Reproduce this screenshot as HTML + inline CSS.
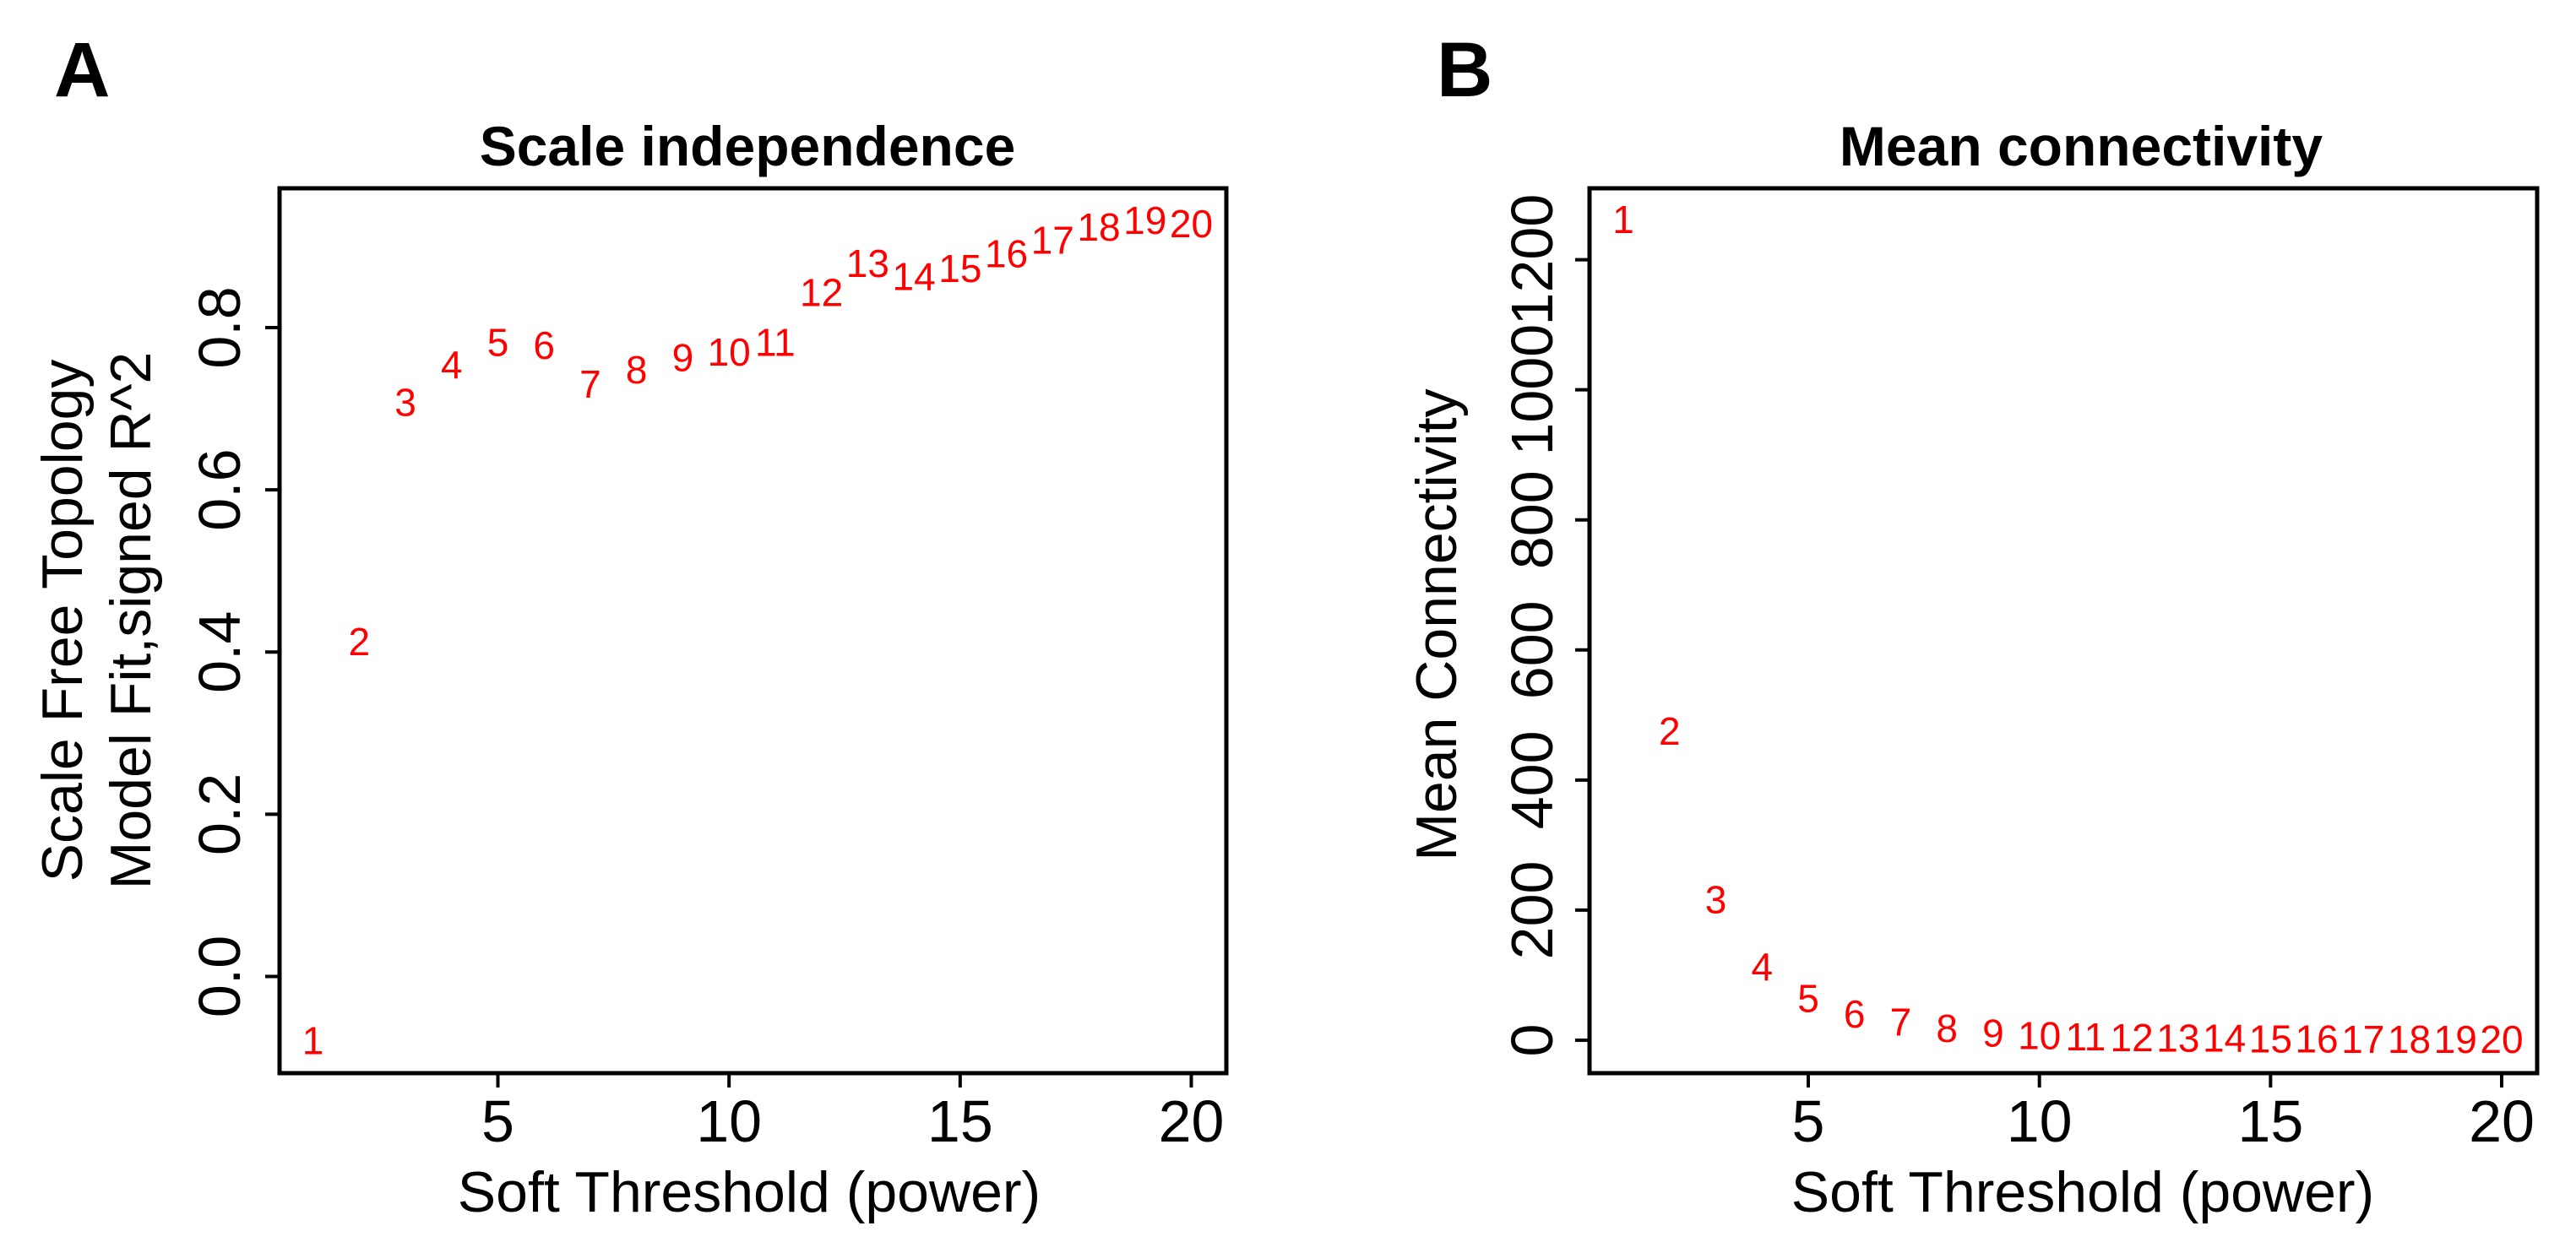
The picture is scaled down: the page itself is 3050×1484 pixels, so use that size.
<!DOCTYPE html>
<html><head><meta charset="utf-8"><style>
html,body{margin:0;padding:0;background:#fff;}
svg{display:block;font-family:"Liberation Sans",Arial,sans-serif;}
</style></head><body>
<svg id="fig" width="3050" height="1484" viewBox="0 0 3050 1484">
<rect x="0" y="0" width="3050" height="1484" fill="#fff"/>
</svg>
<script>
const powers = [1,2,3,4,5,6,7,8,9,10,11,12,13,14,15,16,17,18,19,20];
const fitValues = [-0.079,0.413,0.708,0.754,0.782,0.778,0.730,0.748,0.763,0.770,0.782,0.843,0.879,0.863,0.873,0.891,0.908,0.924,0.932,0.928];
const connValues = [1262,475,216,113,64,40,28,18,11,7,5,4,3,3,2,2,1,1,1,1];
const xTicks = [5,10,15,20];
const yTicksA = [0.0,0.2,0.4,0.6,0.8];
const yTickLabelsA = ["0.0","0.2","0.4","0.6","0.8"];
const yTicksB = [0,200,400,600,800,1000,1200];
const yTickLabelsB = ["0","200","400","600","800","1000","1200"];

const NS="http://www.w3.org/2000/svg";
const svg=document.getElementById('fig');
function mk(tag,attrs,parent,text){const e=document.createElementNS(NS,tag);for(const k in attrs)e.setAttribute(k,attrs[k]);if(text!==undefined)e.textContent=text;(parent||svg).appendChild(e);return e;}

function panel(cfg){
  const g=mk('g',{});
  
  
  const X=v=>cfg.x0+(v-cfg.xv0)*(cfg.x1-cfg.x0)/(cfg.xv1-cfg.xv0);
  const Y=v=>cfg.y0+(v-cfg.yv0)*(cfg.y1-cfg.y0)/(cfg.yv1-cfg.yv0);
  const box=mk('rect',{x:cfg.L,y:cfg.T,width:cfg.R-cfg.L,height:cfg.B-cfg.T,fill:'none',stroke:'#000','stroke-width':5},g);
  
  
  xTicks.forEach(t=>{
    const l=mk('line',{x1:X(t),x2:X(t),y1:cfg.B,y2:cfg.B+17,stroke:'#000','stroke-width':4},g);
    
    
    const tx=mk('text',{x:X(t),y:1352,'font-size':70,'text-anchor':'middle'},g,String(t));
    
    
  });
  cfg.yTicks.forEach((t,i)=>{
    const l=mk('line',{x1:cfg.L-17,x2:cfg.L,y1:Y(t),y2:Y(t),stroke:'#000','stroke-width':4},g);
    
    
    const tx=mk('text',{x:0,y:0,'font-size':70,'text-anchor':'middle',transform:`translate(${cfg.yLabX},${Y(t)}) rotate(-90)`},g,cfg.yLabels[i]);
    
    
  });
  cfg.values.forEach((v,i)=>{
    const tx=mk('text',{x:X(powers[i]),y:Y(v)+16,'font-size':46,fill:'#ff0000','text-anchor':'middle'},g,String(powers[i]));
    
    
  });
  const ti=mk('text',{x:cfg.titleX,y:196,'font-size':66,'font-weight':'bold','text-anchor':'middle'},g,cfg.title);
  
  
  const xt=mk('text',{x:cfg.xTitleX,y:1435,'font-size':68,'text-anchor':'middle'},g,'Soft Threshold (power)');
  
  
  cfg.yTitles.forEach(yt=>{
    const t=mk('text',{x:0,y:0,'font-size':68,'text-anchor':'middle',transform:`translate(${yt.x},${cfg.yTitleY}) rotate(-90)`},g,yt.text);
    
    
  });
  const pl=mk('text',{x:cfg.letterX,y:114,'font-size':92,'font-weight':'bold'},g,cfg.letter);
  
  
}

panel({name:'panel-a-scale-independence',L:331,R:1452,T:223,B:1271,
  x0:589.5,x1:1410.5,xv0:5,xv1:20,y0:1156.5,y1:388,yv0:0,yv1:0.8,
  yTicks:yTicksA,yLabels:yTickLabelsA,yLabX:284,values:fitValues,
  title:'Scale independence',titleX:885,xTitleX:887,yTitleY:735,
  yTitles:[{x:97,text:'Scale Free Topology'},{x:178,text:'Model Fit,signed R^2'}],
  letter:'A',letterX:64});
panel({name:'panel-b-mean-connectivity',L:1882,R:3004,T:223,B:1271,
  x0:2141,x1:2962,xv0:5,xv1:20,y0:1232,y1:307.6,yv0:0,yv1:1200,
  yTicks:yTicksB,yLabels:yTickLabelsB,yLabX:1838,values:connValues,
  title:'Mean connectivity',titleX:2464,xTitleX:2466,yTitleY:740,
  yTitles:[{x:1724,text:'Mean Connectivity'}],
  letter:'B',letterX:1701});
</script>
</body></html>
